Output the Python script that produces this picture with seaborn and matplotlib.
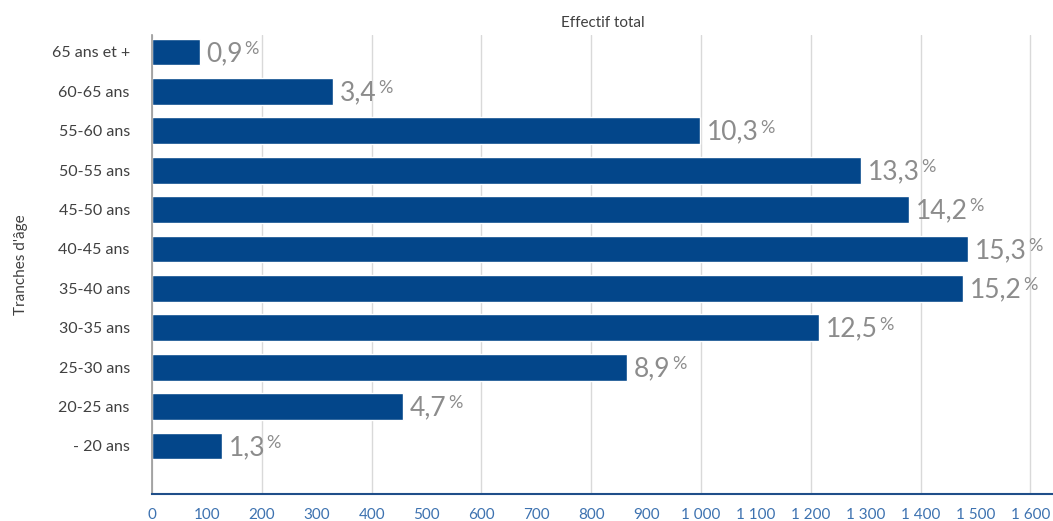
import matplotlib
matplotlib.use("Agg")
import matplotlib.pyplot as plt
import seaborn as sns
import pandas as pd
from matplotlib.ticker import MultipleLocator, FuncFormatter

categories = ["65 ans et +", "60-65 ans", "55-60 ans", "50-55 ans", "45-50 ans",
              "40-45 ans", "35-40 ans", "30-35 ans", "25-30 ans", "20-25 ans", "- 20 ans"]
effectifs = [87, 330, 998, 1291, 1379, 1486, 1477, 1215, 865, 457, 127]
pct_labels = ["0,9", "3,4", "10,3", "13,3", "14,2", "15,3", "15,2", "12,5", "8,9", "4,7", "1,3"]

sns.set_theme(style="white")
plt.rcParams['font.family'] = ['Lato', 'DejaVu Sans']

df = pd.DataFrame({"cat": categories, "val": effectifs})

fig = plt.figure(figsize=(10.53, 5.21), dpi=100)
ax = fig.add_axes([152/1053, 1 - 494/521, (1053 - 152)/1053, (494 - 35)/521])

sns.barplot(data=df, y="cat", x="val", orient="h", color="#03468A",
            saturation=1, width=0.68, ax=ax)

ax.set_xlim(0, 1641)
ax.set_ylim(11.22, -0.43)

# grid every 200, labels every 100
ax.xaxis.set_major_locator(MultipleLocator(200))
ax.xaxis.set_minor_locator(MultipleLocator(100))
fmt = FuncFormatter(lambda v, p: f"{v:,.0f}".replace(",", " "))
ax.xaxis.set_major_formatter(fmt)
ax.xaxis.set_minor_formatter(fmt)
ax.grid(axis="x", which="major", color="#d9d9d9", linewidth=1)
ax.set_axisbelow(True)
ax.tick_params(axis="x", which="both", length=0, labelsize=11, labelcolor="#3d72b0", pad=10)
ax.tick_params(axis="y", length=0, labelsize=11.5, labelcolor="#404040", pad=16)

for s in ["top", "right"]:
    ax.spines[s].set_visible(False)
ax.spines["left"].set_color("#999999")
ax.spines["left"].set_linewidth(1.2)
ax.spines["bottom"].set_color("#1f4e89")
ax.spines["bottom"].set_linewidth(1.5)

ax.set_xlabel("")
ax.set_ylabel("Tranches d'âge", fontsize=11, color="#404040", labelpad=17)
ax.set_title("Effectif total", fontsize=11, color="#404040", pad=6)

for i, (v, lab) in enumerate(zip(effectifs, pct_labels)):
    t = ax.annotate(lab, xy=(v, i), xytext=(5, -1), textcoords="offset points",
                    ha="left", va="center", fontsize=19, color="#8c8c8c")
    ax.annotate("%", xy=(1, 1), xycoords=t, xytext=(1, 0), textcoords="offset points",
                ha="left", va="top", fontsize=13, color="#8c8c8c")

fig.savefig("out.png", dpi=100)
